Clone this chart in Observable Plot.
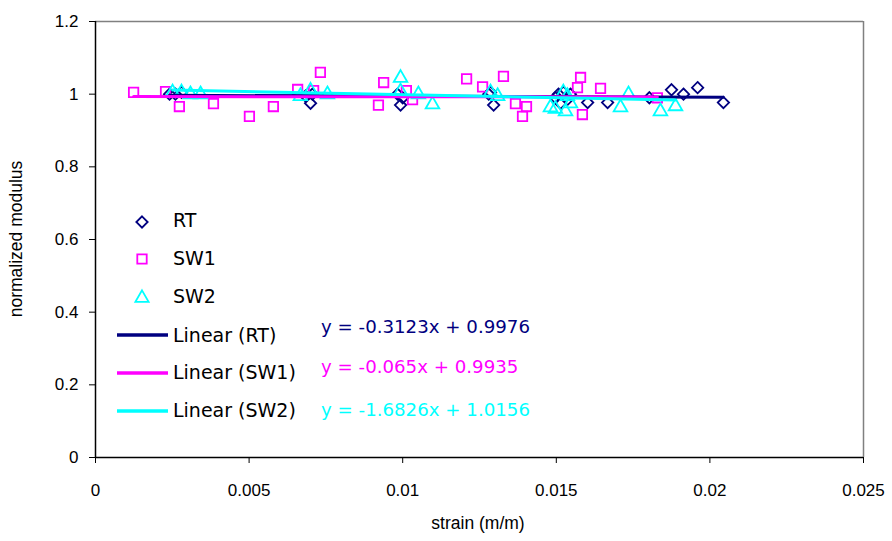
<!DOCTYPE html>
<html>
<head>
<meta charset="utf-8">
<script src="https://cdn.jsdelivr.net/npm/d3@7"></script>
<script src="https://cdn.jsdelivr.net/npm/@observablehq/plot@0.6"></script>
<style>
  html, body { margin: 0; padding: 0; background: #fff; }
  #wrap { position: relative; width: 892px; height: 541px; }
  #wrap svg { position: absolute; left: 0; top: 0; }
</style>
</head>
<body>
<div id="wrap"></div>
<script>
// ---- data ----
const seriesNames = ["RT", "SW1", "SW2"];
const seriesColors = ["#000080", "#FF00FF", "#00FFFF"];
const seriesSymbols = ["diamond2", "square2", "triangle2"];

const rtStrain = [0.00241, 0.0026, 0.0028, 0.00684, 0.0070, 0.00706, 0.00983, 0.00993, 0.0100, 0.0128, 0.01286, 0.01296,
  0.01497, 0.01507, 0.01514, 0.01523, 0.01536, 0.01546, 0.01602, 0.01667, 0.01803, 0.01875, 0.01914, 0.0196, 0.02044];
const rtModulus = [1.0, 1.0, 1.005, 0.995, 0.975, 1.0, 1.0, 0.97, 0.99, 1.0, 1.005, 0.97,
  0.99, 1.0, 0.975, 1.005, 0.985, 1.0, 0.977, 0.977, 0.99, 1.012, 1.0, 1.018, 0.977];

const sw1Strain = [0.00124, 0.00228, 0.00273, 0.00384, 0.00501, 0.00579, 0.00658, 0.0071, 0.00732, 0.00921, 0.00938,
  0.01012, 0.01032, 0.01208, 0.0126, 0.01328, 0.01367, 0.0139, 0.01403, 0.01569, 0.01579, 0.01585, 0.01644, 0.01829];
const sw1Modulus = [1.005, 1.007, 0.966, 0.974, 0.939, 0.966, 1.013, 1.01, 1.06, 0.97, 1.032,
  1.01, 0.985, 1.042, 1.02, 1.049, 0.974, 0.939, 0.966, 1.018, 1.046, 0.944, 1.016, 0.99];

const sw2Strain = [0.00251, 0.0028, 0.00309, 0.00342, 0.00667, 0.0070, 0.00755, 0.00993, 0.00993, 0.01051, 0.01097,
  0.01286, 0.01309, 0.01481, 0.01497, 0.01523, 0.01536, 0.0153, 0.01546, 0.01709, 0.01735, 0.01839, 0.01888];
const sw2Modulus = [1.01, 1.01, 1.005, 1.005, 1.0, 1.015, 1.005, 1.05, 1.013, 1.005, 0.977,
  1.01, 1.0, 0.969, 0.965, 1.01, 1.0, 0.958, 0.98, 0.969, 1.005, 0.958, 0.972];

// trendline equations shown on the chart
const trendSlopes = [-0.3123, -0.065, -1.6826];
const trendIntercepts = [0.9976, 0.9935, 1.0156];
const trendLabels = ["y = -0.3123x + 0.9976", "y = -0.065x + 0.9935", "y = -1.6826x + 1.0156"];
const legendLabels = ["RT", "SW1", "SW2", "Linear (RT)", "Linear (SW1)", "Linear (SW2)"];

const xTicks = [0, 0.005, 0.01, 0.015, 0.02, 0.025];
const xTickLabels = ["0", "0.005", "0.01", "0.015", "0.02", "0.025"];
const yTicks = [0, 0.2, 0.4, 0.6, 0.8, 1, 1.2];
const yTickLabels = ["0", "0.2", "0.4", "0.6", "0.8", "1", "1.2"];
const xTitle = "strain (m/m)";
const yTitle = "normalized modulus";

// ---- build tables ----
const strains = [rtStrain, sw1Strain, sw2Strain];
const moduli = [rtModulus, sw1Modulus, sw2Modulus];
const points = [];
strains.forEach((xs, s) => xs.forEach((x, i) => points.push({series: s, strain: x, modulus: moduli[s][i]})));
const trends = [];
strains.forEach((xs, s) => {
  const x0 = d3.min(xs), x1 = d3.max(xs);
  [x0, x1].forEach(x => trends.push({series: s, strain: x, modulus: trendSlopes[s] * x + trendIntercepts[s]}));
});

const xLabelMap = new Map(xTicks.map((t, i) => [t, xTickLabels[i]]));
const yLabelMap = new Map(yTicks.map((t, i) => [t, yTickLabels[i]]));

const W = 892, H = 541;
const mL = 95, mR = 29, mT = 21, mB = 84;

const dotMarks = [0, 1, 2].map(s => Plot.dot(points.filter(d => d.series === s), {
  x: "strain", y: "modulus",
  symbol: () => seriesSymbols[s],
  r: [5.1, 6, 6.5][s],
  dy: s === 2 ? 2 : 0,
  stroke: seriesColors[s], fill: "none", strokeWidth: 1.8
}));
const lineMarks = [0, 1, 2].map(s => Plot.line(trends.filter(d => d.series === s), {
  x: "strain", y: "modulus", stroke: seriesColors[s], strokeWidth: 3
}));

const chart = Plot.plot({
  width: W, height: H,
  marginLeft: mL, marginRight: mR, marginTop: mT, marginBottom: mB,
  style: {fontFamily: "'Liberation Sans', Arial, sans-serif", fontSize: "17px", color: "#000", background: "transparent"},
  x: {domain: [0, 0.025]},
  y: {domain: [0, 1.2]},
  symbol: {type: "identity"},
  marks: [
    Plot.ruleY([1.2], {stroke: "#808080", strokeWidth: 1.5}),
    Plot.ruleX([0.025], {stroke: "#808080", strokeWidth: 1.5}),
    ...dotMarks,
    ...lineMarks,
    Plot.axisX({ticks: xTicks, tickFormat: d => xLabelMap.get(d), tickSize: 6, tickPadding: 20, label: null, fontSize: 17}),
    Plot.axisY({ticks: yTicks, tickFormat: d => yLabelMap.get(d), tickSize: 6, tickPadding: 11, label: null, fontSize: 17}),
    Plot.ruleX([0], {stroke: "#000", strokeWidth: 1.5}),
    Plot.ruleY([0], {stroke: "#000", strokeWidth: 1.5})
  ]
});
document.getElementById("wrap").appendChild(chart);

// ---- overlay: legend, equations, axis titles ----
const ov = d3.select("#wrap").append("svg")
  .attr("width", W).attr("height", H)
  .style("font-family", "'Liberation Sans', Arial, sans-serif");

// axis titles
ov.append("text").attr("x", 478).attr("y", 529).attr("text-anchor", "middle")
  .attr("font-size", 17.5).text(xTitle);
ov.append("text").attr("transform", "translate(22,239) rotate(-90)").attr("text-anchor", "middle")
  .attr("font-size", 17.5).text(yTitle);

const legFont = "'DejaVu Sans', sans-serif";
const symSize = [5.1, 6, 6.3].map(r => Math.PI * r * r);
const symTypes = [d3.symbolDiamond2, d3.symbolSquare2, d3.symbolTriangle2];
const symRowY = [222, 259, 297];
const symLabelBase = [227, 265, 303];
[0, 1, 2].forEach(s => {
  ov.append("path")
    .attr("transform", `translate(142,${symRowY[s] + (s === 2 ? 1 : 0)})`)
    .attr("d", d3.symbol(symTypes[s], symSize[s])())
    .attr("fill", "none").attr("stroke", seriesColors[s]).attr("stroke-width", 1.8);
  ov.append("text").attr("x", 173).attr("y", symLabelBase[s])
    .attr("font-family", legFont).attr("font-size", 19).text(legendLabels[s]);
});
const lineRowY = [335, 373, 411];
const lineLabelBase = [342, 379, 417];
const eqBase = [333, 373, 416];
[0, 1, 2].forEach(s => {
  ov.append("line").attr("x1", 117).attr("x2", 168).attr("y1", lineRowY[s]).attr("y2", lineRowY[s])
    .attr("stroke", seriesColors[s]).attr("stroke-width", 3.5);
  ov.append("text").attr("x", 173).attr("y", lineLabelBase[s])
    .attr("font-family", legFont).attr("font-size", 19).text(legendLabels[s + 3]);
  ov.append("text").attr("x", 321).attr("y", eqBase[s])
    .attr("font-family", legFont).attr("font-size", 18.2).attr("fill", seriesColors[s]).text(trendLabels[s]);
});
</script>
</body>
</html>
